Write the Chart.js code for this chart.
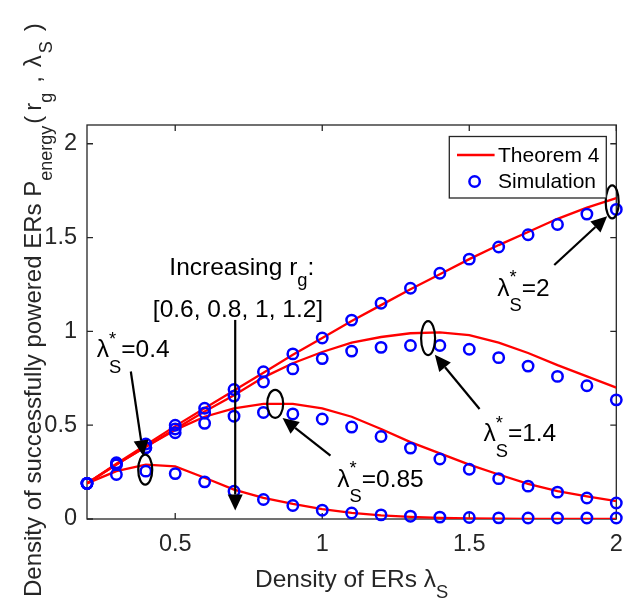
<!DOCTYPE html>
<html>
<head>
<meta charset="utf-8">
<script src="https://cdn.jsdelivr.net/npm/chart.js@4.4.1/dist/chart.umd.min.js"></script>
<style>
  html, body { margin: 0; padding: 0; background: #fff; }
  canvas { display: block; }
</style>
</head>
<body>
<canvas id="chart" width="624" height="599"></canvas>
<script>
// ========== Data ==========

const lambdaS = [0.2, 0.3, 0.4, 0.5, 0.6, 0.7, 0.8, 0.9, 1.0, 1.1, 1.2, 1.3, 1.4, 1.5, 1.6, 1.7, 1.8, 1.9, 2.0];

// Theorem 4 curves, one per r_g
const theoryRg06 = [0.19, 0.295, 0.395, 0.495, 0.59, 0.685, 0.78, 0.875, 0.965, 1.055, 1.14, 1.225, 1.305, 1.385, 1.46, 1.53, 1.6, 1.66, 1.71];
const theoryRg08 = [0.19, 0.29, 0.385, 0.48, 0.573, 0.66, 0.755, 0.83, 0.89, 0.94, 0.97, 0.99, 0.995, 0.98, 0.94, 0.885, 0.82, 0.76, 0.70];
const theoryRg10 = [0.19, 0.29, 0.385, 0.475, 0.545, 0.59, 0.614, 0.614, 0.59, 0.545, 0.48, 0.41, 0.35, 0.29, 0.237, 0.187, 0.148, 0.12, 0.095];
const theoryRg12 = [0.19, 0.255, 0.29, 0.28, 0.22, 0.157, 0.113, 0.08, 0.053, 0.033, 0.019, 0.011, 0.006, 0.003, 0.002, 0.001, 0.001, 0, 0];

// Simulation points
const simRg06 = [0.19, 0.30, 0.40, 0.50, 0.59, 0.69, 0.785, 0.88, 0.965, 1.06, 1.15, 1.23, 1.31, 1.385, 1.45, 1.515, 1.57, 1.625, 1.65];
const simRg08 = [0.19, 0.29, 0.38, 0.48, 0.565, 0.655, 0.73, 0.80, 0.855, 0.895, 0.915, 0.925, 0.925, 0.905, 0.86, 0.815, 0.76, 0.71, 0.635];
const simRg10 = [0.19, 0.29, 0.38, 0.46, 0.51, 0.548, 0.568, 0.56, 0.533, 0.49, 0.44, 0.378, 0.32, 0.265, 0.215, 0.175, 0.143, 0.112, 0.085];
const simRg12 = [0.19, 0.237, 0.255, 0.242, 0.198, 0.148, 0.104, 0.072, 0.047, 0.032, 0.022, 0.015, 0.01, 0.008, 0.006, 0.005, 0.005, 0.005, 0.005];

const xTicks = [0.5, 1, 1.5, 2];
const yTicks = [0, 0.5, 1, 1.5, 2];

// Annotations (data coordinates)
const ellipses = [
  { x: 0.398, y: 0.263, rx: 7, ry: 15 },
  { x: 0.84, y: 0.614, rx: 8, ry: 14 },
  { x: 1.36, y: 0.964, rx: 7, ry: 17 },
  { x: 1.986, y: 1.69, rx: 6.5, ry: 16.5 }
];
const arrows = [
  { from: [0.349, 0.786], to: [0.392, 0.334] },
  { from: [1.028, 0.338], to: [0.865, 0.538] },
  { from: [1.535, 0.586], to: [1.383, 0.875] },
  { from: [1.789, 1.354], to: [1.969, 1.614] },
  { from: [0.704, 1.061], to: [0.704, 0.045] }
];
const labels = [
  { x: 0.48, y: 1.303, parts: [{ t: "Increasing r" }, { sub: "g" }, { t: ":" }] },
  { x: 0.424, y: 1.076, parts: [{ t: "[0.6, 0.8, 1, 1.2]" }] },
  { x: 0.233, y: 0.862, parts: [{ t: "λ" }, { sub: "S", sup: "*" }, { t: "=0.4" }] },
  { x: 1.051, y: 0.172, parts: [{ t: "λ" }, { sub: "S", sup: "*" }, { t: "=0.85" }] },
  { x: 1.548, y: 0.415, parts: [{ t: "λ" }, { sub: "S", sup: "*" }, { t: "=1.4" }] },
  { x: 1.595, y: 1.191, parts: [{ t: "λ" }, { sub: "S", sup: "*" }, { t: "=2" }] }
];

// ========== Helpers ==========

const FONT = '"Liberation Sans", Arial, Helvetica, sans-serif';
const INK = "#262626";
const RED = "#ff0000";
const BLUE = "#0000ff";

const pts = ys => lambdaS.map((x, i) => ({ x, y: ys[i] }));

// text with sub/superscripts, drawn left to right from (x, y) baseline
// optional p.gap adds extra space after a part (TeX-like spacing)
function drawRich(ctx, parts, x, y, size, color) {
  ctx.fillStyle = color;
  ctx.textBaseline = "alphabetic";
  ctx.textAlign = "left";
  let cx = x;
  parts.forEach(p => {
    if (p.t) {
      ctx.font = `${size}px ${FONT}`;
      ctx.fillText(p.t, cx, y);
      cx += ctx.measureText(p.t).width;
    } else {
      ctx.font = `${size * 0.75}px ${FONT}`;
      let w = 0;
      if (p.sub) {
        const off = p.sup ? 0.64 : 0.45;
        ctx.fillText(p.sub, cx, y + size * off);
        w = Math.max(w, ctx.measureText(p.sub).width);
      }
      if (p.sup) {
        ctx.fillText(p.sup, cx, y - size * 0.5);
        w = Math.max(w, ctx.measureText(p.sup).width);
      }
      cx += w;
    }
    cx += p.gap || 0;
  });
  return cx - x;
}

function richWidth(ctx, parts, size) {
  ctx.save();
  ctx.globalAlpha = 0;
  const w = drawRich(ctx, parts, 0, 0, size, "#000");
  ctx.restore();
  return w;
}

function drawArrow(ctx, x1, y1, x2, y2) {
  const ang = Math.atan2(y2 - y1, x2 - x1);
  const len = 16, half = 7.5;
  const bx = x2 - len * Math.cos(ang), by = y2 - len * Math.sin(ang);
  ctx.beginPath();
  ctx.moveTo(x1, y1);
  ctx.lineTo(bx, by);
  ctx.stroke();
  ctx.beginPath();
  ctx.moveTo(x2, y2);
  ctx.lineTo(bx + half * Math.sin(ang), by - half * Math.cos(ang));
  ctx.lineTo(bx - half * Math.sin(ang), by + half * Math.cos(ang));
  ctx.closePath();
  ctx.fill();
}

// ========== Plugins ==========

// axes box with inward ticks on all four sides
const frame = {
  id: "frame",
  beforeDatasetsDraw(chart) {
    const { ctx, chartArea: a, scales: { x, y } } = chart;
    ctx.save();
    ctx.strokeStyle = INK;
    ctx.lineWidth = 1.3;
    ctx.strokeRect(a.left, a.top, a.right - a.left, a.bottom - a.top);
    ctx.beginPath();
    xTicks.forEach(v => {
      const px = x.getPixelForValue(v);
      ctx.moveTo(px, a.bottom); ctx.lineTo(px, a.bottom - 6);
      ctx.moveTo(px, a.top); ctx.lineTo(px, a.top + 6);
    });
    yTicks.forEach(v => {
      const py = y.getPixelForValue(v);
      ctx.moveTo(a.left, py); ctx.lineTo(a.left + 6, py);
      ctx.moveTo(a.right, py); ctx.lineTo(a.right - 6, py);
    });
    ctx.stroke();
    ctx.restore();
  }
};

// ellipses, arrows, labels, legend and axis titles
const overlay = {
  id: "overlay",
  afterDatasetsDraw(chart) {
    const { ctx, chartArea: a, scales: { x, y } } = chart;
    ctx.save();
    ctx.strokeStyle = "#000";
    ctx.fillStyle = "#000";
    ctx.lineWidth = 2.2;

    ellipses.forEach(e => {
      ctx.beginPath();
      ctx.ellipse(x.getPixelForValue(e.x), y.getPixelForValue(e.y), e.rx, e.ry, 0, 0, Math.PI * 2);
      ctx.stroke();
    });

    arrows.forEach(r => {
      drawArrow(ctx,
        x.getPixelForValue(r.from[0]), y.getPixelForValue(r.from[1]),
        x.getPixelForValue(r.to[0]), y.getPixelForValue(r.to[1]));
    });

    labels.forEach(l => {
      drawRich(ctx, l.parts, x.getPixelForValue(l.x), y.getPixelForValue(l.y), 24.5, "#000");
    });

    // legend box (top right inside the axes)
    const lw = 157, lh = 61.5;
    const lx = a.right - 167, ly = a.top + 11.5;
    ctx.fillStyle = "#fff";
    ctx.fillRect(lx, ly, lw, lh);
    ctx.strokeStyle = INK;
    ctx.lineWidth = 1.3;
    ctx.strokeRect(lx, ly, lw, lh);

    const row1 = ly + 18.5, row2 = ly + 45;
    ctx.strokeStyle = RED;
    ctx.lineWidth = 2.3;
    ctx.beginPath();
    ctx.moveTo(lx + 7.7, row1);
    ctx.lineTo(lx + 45.3, row1);
    ctx.stroke();
    ctx.strokeStyle = BLUE;
    ctx.lineWidth = 2.5;
    ctx.beginPath();
    ctx.arc(lx + 25.3, row2, 5.2, 0, Math.PI * 2);
    ctx.stroke();

    ctx.fillStyle = "#000";
    ctx.font = `21px ${FONT}`;
    ctx.textBaseline = "middle";
    ctx.textAlign = "left";
    ctx.fillText("Theorem 4", lx + 48.7, row1 + 1);
    ctx.fillText("Simulation", lx + 48.7, row2 + 1);

    // x axis title
    const xParts = [{ t: "Density of ERs λ" }, { sub: "S" }];
    const xw = richWidth(ctx, xParts, 24.5);
    drawRich(ctx, xParts, (a.left + a.right) / 2 - xw / 2, 587, 24.5, INK);

    // y axis title (rotated), starts near the bottom edge
    const yParts = [
      { t: "Density of successfully powered ERs P" }, { sub: "energy", gap: 2 },
      { t: "(", gap: 5 }, { t: "r" }, { sub: "g", gap: 10 }, { t: ",", gap: 9 }, { t: "λ", gap: 2 },
      { sub: "S", gap: 10 }, { t: ")" }
    ];
    ctx.translate(41, 597);
    ctx.rotate(-Math.PI / 2);
    drawRich(ctx, yParts, 0, 0, 24, INK);

    ctx.restore();
  }
};

// ========== Chart ==========

const lineSet = (label, ys) => ({
  label, data: pts(ys), order: 1,
  borderColor: RED, borderWidth: 2.3, pointRadius: 0, tension: 0, fill: false
});
const simSet = (label, ys) => ({
  label, data: pts(ys), order: 0, showLine: false, clip: false,
  pointRadius: 5.2, pointBorderWidth: 2.5, pointBorderColor: BLUE,
  pointBackgroundColor: "rgba(0,0,0,0)", pointStyle: "circle"
});

const tickFont = { family: FONT, size: 23.5 };

new Chart(document.getElementById("chart"), {
  type: "line",
  data: {
    datasets: [
      lineSet("Theorem 4 r_g=0.6", theoryRg06),
      lineSet("Theorem 4 r_g=0.8", theoryRg08),
      lineSet("Theorem 4 r_g=1", theoryRg10),
      lineSet("Theorem 4 r_g=1.2", theoryRg12),
      simSet("Simulation r_g=0.6", simRg06),
      simSet("Simulation r_g=0.8", simRg08),
      simSet("Simulation r_g=1", simRg10),
      simSet("Simulation r_g=1.2", simRg12)
    ]
  },
  options: {
    responsive: false,
    animation: false,
    devicePixelRatio: 1,
    layout: { padding: { left: 0, right: 3, top: 125, bottom: 0 } },
    plugins: { legend: { display: false }, tooltip: { enabled: false } },
    scales: {
      x: {
        type: "linear", min: 0.2, max: 2,
        grid: { display: false, drawTicks: false },
        border: { display: false },
        ticks: { padding: 11, color: INK, font: tickFont, maxRotation: 0, autoSkip: false, callback: v => String(v) },
        afterBuildTicks: s => { s.ticks = xTicks.map(v => ({ value: v })); },
        afterFit: s => { s.height = 80; s.paddingLeft = 0; s.paddingRight = 0; }
      },
      y: {
        type: "linear", min: 0, max: 2.1,
        grid: { display: false, drawTicks: false },
        border: { display: false },
        ticks: { padding: 10, color: INK, font: tickFont, autoSkip: false, callback: v => String(v) },
        afterBuildTicks: s => { s.ticks = yTicks.map(v => ({ value: v })); },
        afterFit: s => { s.width = 87; s.paddingTop = 0; s.paddingBottom = 0; }
      }
    }
  },
  plugins: [frame, overlay]
});
</script>
</body>
</html>
